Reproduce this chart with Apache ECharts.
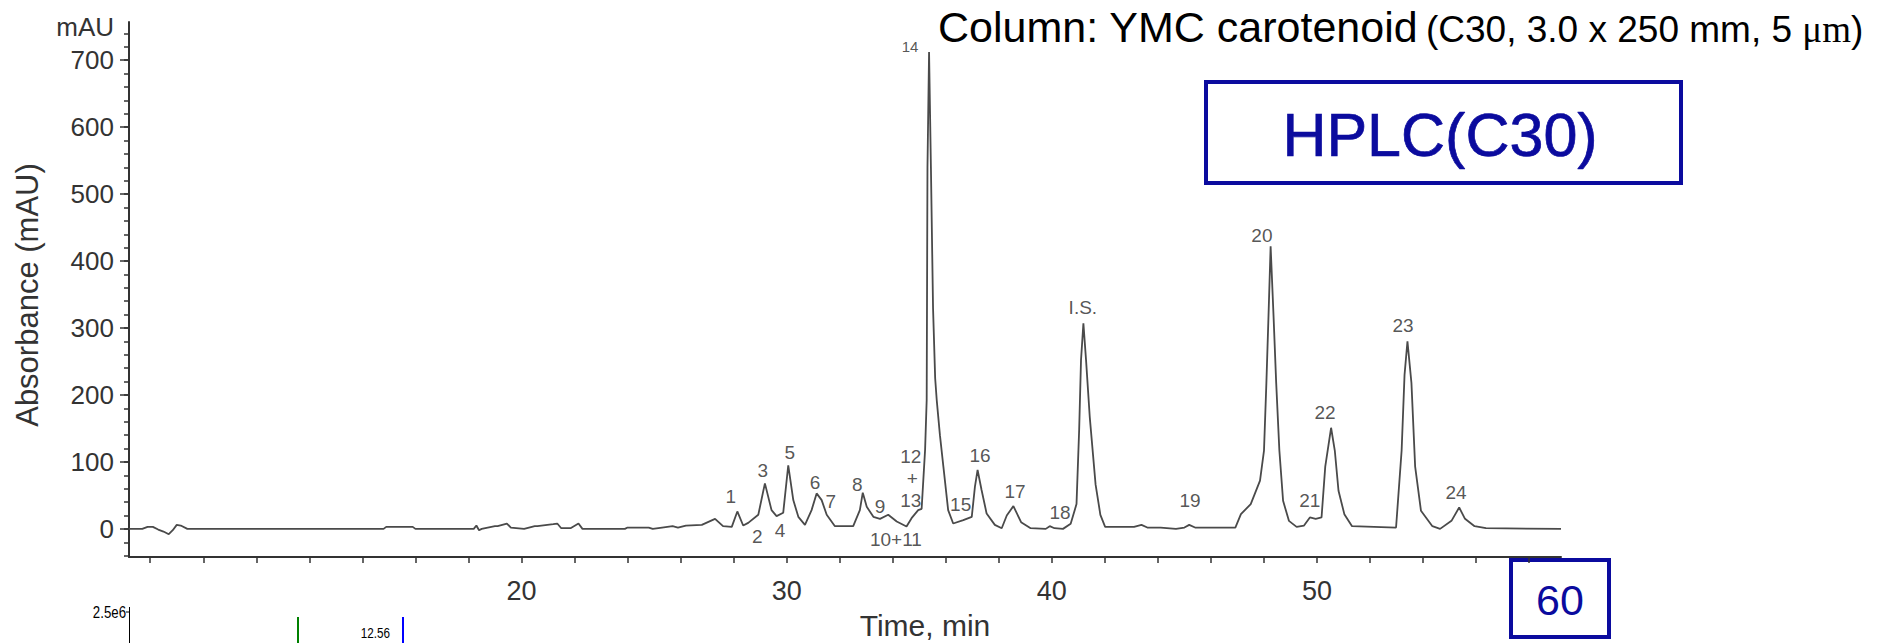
<!DOCTYPE html>
<html><head><meta charset="utf-8">
<script src="https://cdn.jsdelivr.net/npm/echarts@6/dist/echarts.min.js"></script>
<style>html,body{margin:0;padding:0;background:#fff}#c{width:1885px;height:643px}</style>
</head><body><div id="c"></div>
<script>
// ---- data ----
const timeMin = [5.2,5.7,5.9,6.1,6.3,6.5,6.7,6.85,7.0,7.15,7.4,14.8,14.9,15.9,16.0,18.2,18.3,18.4,18.5,19.0,19.1,19.45,19.6,20.1,20.5,20.6,21.2,21.35,21.5,21.85,22.15,22.3,23.9,24.0,24.8,24.95,25.3,25.7,25.9,26.2,26.8,27.3,27.6,27.93,28.14,28.36,28.55,28.93,29.18,29.43,29.62,29.87,30.06,30.25,30.44,30.69,30.94,31.13,31.32,31.51,31.82,32.51,32.76,32.87,33.02,33.27,33.52,33.83,34.15,34.52,34.71,34.96,35.09,35.22,35.28,35.31,35.37,35.44,35.52,35.6,35.66,35.78,35.91,36.09,36.28,36.66,36.98,37.1,37.2,37.35,37.54,37.85,38.11,38.3,38.55,38.84,39.2,39.77,39.92,40.1,40.42,40.71,40.93,41.03,41.1,41.19,41.29,41.43,41.65,41.83,42.01,43.1,43.38,43.6,44.1,44.68,45.0,45.18,45.4,45.84,46.92,47.13,47.5,47.85,48.0,48.09,48.17,48.25,48.36,48.46,48.58,48.72,48.94,49.23,49.51,49.73,49.95,50.17,50.31,50.53,50.67,50.81,51.03,51.32,52.98,53.19,53.3,53.41,53.56,53.7,53.92,54.35,54.64,55.07,55.36,55.58,55.94,56.37,59.2];
const absorbance = [0,0,3,3,-1,-4,-8,-2,6,5,0,0,3,3,0,0,5,-2,0,4,4,8,2,0,4,4,7,8,1,1,8,0,0,2,2,0,2,4,2,5,6,15,4,3,26,5,9,21,68,28,19,24,95,43,18,6,28,53,43,21,4,4,28,54,33,18,15,21,11,3.5,16,28,30,118,192,540,712,540,330,225,192,140,93,28,8,13,18,63,88,58,23,6,1,20,34,10,1,0,4,1,0,7.5,37,148,252,307,252,167,66,21,3,3,6,2,2,0,2,6,2,2,2,22,37,72,117,218,318,422,318,218,117,42,12,3,5,17,15,17,93,151,117,57,22,4,2,117,230,280,218,93,27,4,0,12,32,15,4,1,0];

const peakLabels     = ['1','2','3','4','5','6','7','8','9','10+11','12','+','13','14','15','16','17','18','I.S.','19','20','21','22','23','24'];
const peakLabelTime  = [27.89,28.89,29.1,29.75,30.12,31.07,31.66,32.66,33.52,34.12,34.68,34.74,34.68,34.65,36.56,37.29,38.61,40.31,41.17,45.21,47.92,49.73,50.3,53.24,55.24];
const peakLabelValue = [49,-11,87,-3,114,70,41,66,34,-16,108,75,42,720,36,110,56,24,330,42,438,43,174,303,54];

const xTickLabels = [20,30,40,50];
const yTickLabels = [0,100,200,300,400,500,600,700];

const titleText = 'Column: YMC carotenoid';
const titleParen = '(C30, 3.0 x 250 mm, 5 ';
const boxText = 'HPLC(C30)';
const cornerBoxText = '60';
const yName = 'Absorbance (mAU)';
const yUnit = 'mAU';
const xName = 'Time, min';

// ---- layout ----
const X0 = 5.2, X1 = 59.2, Y0 = -42, Y1 = 757;
const G = {left:129, right:324, top:22, bottom:86};
const W = 1885 - G.left - G.right, H = 643 - G.top - G.bottom;
const px = W/(X1-X0), py = H/(Y1-Y0);
const xtMin = 6, xtMax = 58;
const ymMin = -40, ymMax = 740;
const yMin = Math.min.apply(null, yTickLabels), yMax = Math.max.apply(null, yTickLabels);

const FONT = 'Liberation Sans, Arial, sans-serif';
const AX = '#333';
const BLUE = '#0b0b9e';

const chart = echarts.init(document.getElementById('c'), null, {renderer:'svg'});

const traceData = timeMin.map((t,i)=>[t, absorbance[i]]);
const labelData = peakLabels.map((s,i)=>{
  const d = {name:s, value:[peakLabelTime[i], peakLabelValue[i]]};
  if (s === '14') d.label = {fontSize:15};
  return d;
});

const hidden = {show:false};
chart.setOption({
  animation:false,
  backgroundColor:'#fff',
  grid:[
    {left:G.left, right:G.right, top:G.top, bottom:G.bottom},
    {left:G.left+(xtMin-X0)*px, right:G.right+(X1-xtMax)*px, top:G.top, bottom:G.bottom},
    {left:G.left, right:G.right, top:G.top+(Y1-ymMax)*py, bottom:G.bottom+(ymMin-Y0)*py},
    {left:G.left, right:G.right, top:G.top+(Y1-yMax)*py, bottom:G.bottom+(yMin-Y0)*py}
  ],
  xAxis:[
    {gridIndex:0, type:'value', min:X0, max:X1, splitLine:hidden, axisTick:hidden, axisLabel:hidden,
     axisLine:{show:true, onZero:false, lineStyle:{color:AX, width:2}}},
    {gridIndex:1, type:'value', min:xtMin, max:xtMax, interval:2, splitLine:hidden,
     axisLine:{show:false, onZero:false},
     axisTick:{show:true, length:6, lineStyle:{color:AX, width:1.5}},
     axisLabel:{show:true, margin:20, fontSize:27, color:AX, fontFamily:FONT,
       formatter:v=> xTickLabels.indexOf(v)>=0 ? String(v) : ''}},
    {gridIndex:2, type:'value', show:false, min:0, max:1},
    {gridIndex:3, type:'value', show:false, min:0, max:1}
  ],
  yAxis:[
    {gridIndex:0, type:'value', min:Y0, max:Y1, splitLine:hidden, axisTick:hidden, axisLabel:hidden,
     axisLine:{show:true, onZero:false, lineStyle:{color:AX, width:2}}},
    {gridIndex:1, type:'value', show:false, min:Y0, max:Y1},
    {gridIndex:2, type:'value', min:ymMin, max:ymMax, interval:20, splitLine:hidden,
     axisLine:{show:false, onZero:false}, axisLabel:hidden,
     axisTick:{show:true, length:5, lineStyle:{color:AX, width:1.5}}},
    {gridIndex:3, type:'value', min:yMin, max:yMax, interval:100, splitLine:hidden,
     axisLine:{show:false, onZero:false},
     axisTick:{show:true, length:9, lineStyle:{color:AX, width:1.5}},
     axisLabel:{show:true, margin:15, fontSize:26, color:AX, fontFamily:FONT,
       formatter:v=> yTickLabels.indexOf(v)>=0 ? String(v) : ''}}
  ],
  series:[
    {type:'line', xAxisIndex:0, yAxisIndex:0, data:traceData, showSymbol:false, symbol:'none',
     smooth:false, lineStyle:{color:'#4a4a4a', width:1.8}, z:3},
    {type:'scatter', xAxisIndex:0, yAxisIndex:0, data:labelData, symbolSize:0, silent:true,
     label:{show:true, position:'inside', formatter:p=>p.name, color:'#2a2a2a', fontSize:19, fontFamily:FONT}, z:4}
  ],
  graphic:[
    {type:'text', x:938, y:27, style:{text:titleText, font:'43px '+FONT, fill:'#000', textAlign:'left', textVerticalAlign:'middle'}},
    {type:'text', x:1426, y:29, style:{
       text:'{a|'+titleParen+'}{b|\u03bcm}{a|)}', textAlign:'left', textVerticalAlign:'middle',
       rich:{a:{fontSize:37, fontFamily:FONT, fill:'#000'}, b:{fontSize:37, fontFamily:'Liberation Serif, serif', fill:'#000'}}}},
    {type:'rect', shape:{x:1206, y:82, width:475, height:101}, style:{fill:'#fff', stroke:BLUE, lineWidth:4}},
    {type:'text', x:1440, y:135, style:{text:boxText, font:'61px '+FONT, fill:BLUE, stroke:BLUE, lineWidth:0.7, textAlign:'center', textVerticalAlign:'middle'}},
    {type:'rect', shape:{x:1511, y:560, width:98, height:77}, style:{fill:'#fff', stroke:BLUE, lineWidth:4}},
    {type:'text', x:1560, y:600, style:{text:cornerBoxText, font:'43px '+FONT, fill:BLUE, textAlign:'center', textVerticalAlign:'middle'}},
    {type:'text', x:114, y:27, style:{text:yUnit, font:'26px '+FONT, fill:AX, textAlign:'right', textVerticalAlign:'middle'}},
    {type:'text', x:27, y:295, rotation:Math.PI/2, style:{text:yName, font:'31px '+FONT, fill:AX, textAlign:'center', textVerticalAlign:'middle'}},
    {type:'text', x:925, y:625, style:{text:xName, font:'30px '+FONT, fill:AX, textAlign:'center', textVerticalAlign:'middle'}},
    // fragments of a second panel at the bottom-left
    {type:'text', x:126, y:612, scaleX:0.78, originX:0, style:{text:'2.5e6', font:'17px '+FONT, fill:'#000', textAlign:'right', textVerticalAlign:'middle'}},
    {type:'line', shape:{x1:129.5, y1:607, x2:129.5, y2:643}, style:{stroke:'#000', lineWidth:1}},
    {type:'line', shape:{x1:126, y1:612, x2:129.5, y2:612}, style:{stroke:'#000', lineWidth:1}},
    {type:'line', shape:{x1:298, y1:617, x2:298, y2:643}, style:{stroke:'#008000', lineWidth:2}},
    {type:'text', x:390, y:633, scaleX:0.78, style:{text:'12.56', font:'15px '+FONT, fill:'#000', textAlign:'right', textVerticalAlign:'middle'}},
    {type:'line', shape:{x1:403, y1:617, x2:403, y2:643}, style:{stroke:'#0000ff', lineWidth:2}}
  ]
});
</script></body></html>
